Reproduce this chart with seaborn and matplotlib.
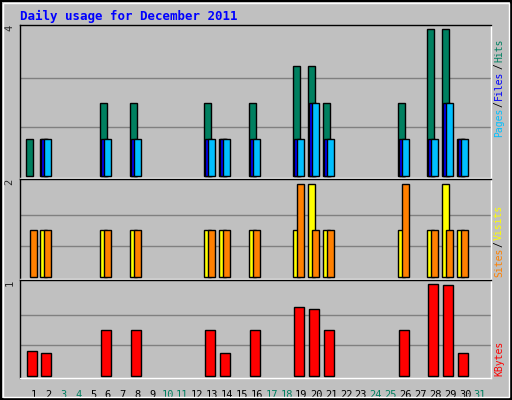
import numpy as np
import matplotlib
matplotlib.use("Agg")
import matplotlib.pyplot as plt
import seaborn as sns

# ---- data ----
days = np.arange(1, 32)
hits = [1, 1, 0, 0, 0, 2, 0, 2, 0, 0, 0, 0, 2, 1, 0, 2, 0, 0, 3, 3, 2, 0, 0, 0, 0, 2, 0, 4, 4, 1, 0]
files = [0, 1, 0, 0, 0, 1, 0, 1, 0, 0, 0, 0, 1, 1, 0, 1, 0, 0, 1, 2, 1, 0, 0, 0, 0, 1, 0, 1, 2, 1, 0]
pages = [0, 1, 0, 0, 0, 1, 0, 1, 0, 0, 0, 0, 1, 1, 0, 1, 0, 0, 1, 2, 1, 0, 0, 0, 0, 1, 0, 1, 2, 1, 0]
visits = [0, 1, 0, 0, 0, 1, 0, 1, 0, 0, 0, 0, 1, 1, 0, 1, 0, 0, 1, 2, 1, 0, 0, 0, 0, 1, 0, 1, 2, 1, 0]
sites = [1, 1, 0, 0, 0, 1, 0, 1, 0, 0, 0, 0, 1, 1, 0, 1, 0, 0, 2, 1, 1, 0, 0, 0, 0, 2, 0, 1, 1, 1, 0]
kbytes = [0.27, 0.25, 0, 0, 0, 0.50, 0, 0.50, 0, 0, 0, 0, 0.50, 0.25, 0, 0.50, 0, 0, 0.75, 0.73,
          0.50, 0, 0, 0, 0, 0.50, 0, 1.0, 0.99, 0.25, 0]
weekend = [3, 4, 10, 11, 17, 18, 24, 25, 31]

sns.set_style("white")
plt.rcParams['font.family'] = ['DejaVu Sans Mono', 'DejaVu Sans']

GREY = "#C0C0C0"
fig = plt.figure(figsize=(5.12, 4.0), dpi=100, facecolor=GREY)
W, H = 512, 400


def px_axes(x0, y0, x1, y1):
    return fig.add_axes([x0 / W, 1 - y1 / H, (x1 - x0) / W, (y1 - y0) / H])


def style(ax, ylim, top_label, grid):
    ax.set_facecolor(GREY)
    ax.set_xlim(0.09, 31.74)
    ax.set_ylim(*ylim)
    for g in grid:
        ax.axhline(g, color="#808080", lw=1, zorder=0)
    ax.set_xticks([])
    ax.set_yticks([])
    for s in ["left", "top"]:
        ax.spines[s].set_color("black")
    for s in ["right", "bottom"]:
        ax.spines[s].set_color("white")
    for s in ax.spines.values():
        s.set_linewidth(1)
    ax.text(-0.012, 1.0, top_label, transform=ax.transAxes, rotation=90,
            ha="right", va="top", fontsize=7.5)


def bars(ax, vals, offset, width, color):
    v = np.array(vals, dtype=float)
    m = v > 0
    ax.bar(days[m] + offset, v[m], width=width, align="edge", color=color,
           edgecolor="black", linewidth=1, zorder=3)


# top panel: hits / files / pages
ax1 = px_axes(20, 25, 491, 178)
style(ax1, (-0.05, 4.12), "4", [4 / 3, 8 / 3])
bars(ax1, hits, -0.54, 0.47, "#008060")
bars(ax1, pages, -0.47, 0.45, "#0000FF")
bars(ax1, files, -0.27, 0.47, "#00BFFF")

# middle panel: visits / sites
ax2 = px_axes(20, 179, 491, 279)
style(ax2, (-0.04, 2.1), "2", [2 / 3, 4 / 3])
bars(ax2, visits, -0.54, 0.47, "#FFFF00")
bars(ax2, sites, -0.27, 0.47, "#FF8000")

# bottom panel: kbytes
ax3 = px_axes(20, 280, 491, 378)
style(ax3, (-0.02, 1.04), "1", [1 / 3, 2 / 3])
bars(ax3, kbytes, -0.47, 0.67, "#FF0000")

for d in days:
    ax3.text(d, -0.12, str(d), transform=ax3.get_xaxis_transform(), ha="center", va="top",
             fontsize=7.5, color="#008060" if d in weekend else "black")


# right side labels (read bottom to top)
def side_label(y_px, parts):
    x = 499 / W
    y = 1 - y_px / H
    for txt, col in parts:
        t = fig.text(x, y, txt, rotation=90, color=col, fontsize=7, ha="center", va="bottom")
        fig.canvas.draw()
        bb = t.get_window_extent()
        y += bb.height / fig.bbox.height + 1 / H


side_label(137, [("Pages", "#00BFFF"), ("/", "black"), ("Files", "#0000FF"), ("/", "black"), ("Hits", "#008060")])
side_label(290 / 1.0 - 0, []) if False else None
side_label(277, [("Sites", "#FF8000"), ("/", "black"), ("Visits", "#FFFF00")])
side_label(376, [("KBytes", "#FF0000")])

fig.text(20 / W, 1 - 16 / H, "Daily usage for December 2011", color="#0000FF",
         fontsize=9, fontweight="bold", va="center", ha="left")

# outer frame
fig.patches.append(plt.Rectangle((0.002, 0.002), 0.996, 0.996, transform=fig.transFigure,
                                 fill=False, edgecolor="black", lw=1.5))
fig.patches.append(plt.Rectangle((0.006, 0.008), 0.988, 0.984, transform=fig.transFigure,
                                 fill=False, edgecolor="white", lw=1))

fig.savefig("out.png", dpi=100, facecolor=GREY)
